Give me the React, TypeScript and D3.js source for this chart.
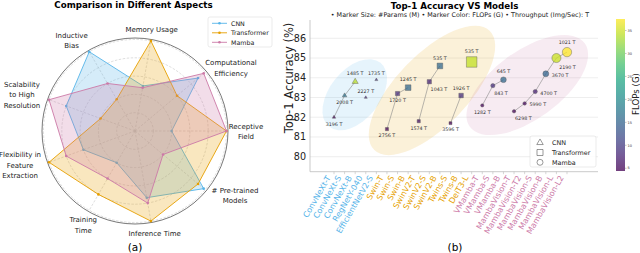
import React from "react";
import * as d3 from "d3";

// ---------- (a) radar data ----------
const aspects = [
  "Receptive\nField",
  "Computational\nEfficiency",
  "Memory Usage",
  "Inductive\nBias",
  "Scalability\nto High\nResolution",
  "Flexibility in\nFeature\nExtraction",
  "Training\nTime",
  "Inference Time",
  "# Pre-trained\nModels",
];
const cnnScores = [2, 4.5, 2.5, 5, 4, 3, 2, 3.7, 4.9];
const transformerScores = [5, 3, 5, 2, 2, 5, 4, 5, 4.5];
const mambaScores = [5, 4.9, 2.4, 3, 5, 4, 3, 4, 2];
const radarNames = ["CNN", "Transformer", "Mamba"];
const radarScores = [cnnScores, transformerScores, mambaScores];

// ---------- (b) scatter data ----------
const models = [
  "ConvNeXt-T", "ConvNeXt-S", "ConvNeXt-B", "RegNetY-040", "EfficientNetV2-S",
  "Swin-T", "Swin-S", "Swin-B", "SwinV2-T", "SwinV2-S", "SwinV2-B", "Twins-S", "Twins-B", "DeiT3-L",
  "VMamba-T", "VMamba-S", "VMamba-B", "MambaVision-T", "MambaVision-T2", "MambaVision-S",
  "MambaVision-B", "MambaVision-L", "MambaVision-L2",
];
const family = [
  "CNN", "CNN", "CNN", "CNN", "CNN",
  "Transformer", "Transformer", "Transformer", "Transformer", "Transformer", "Transformer",
  "Transformer", "Transformer", "Transformer",
  "Mamba", "Mamba", "Mamba", "Mamba", "Mamba", "Mamba", "Mamba", "Mamba", "Mamba",
];
const lineage = [
  "ConvNeXt", "ConvNeXt", "ConvNeXt", "RegNetY", "EfficientNetV2",
  "Swin", "Swin", "Swin", "SwinV2", "SwinV2", "SwinV2", "Twins", "Twins", "DeiT3",
  "VMamba", "VMamba", "VMamba", "MambaVision", "MambaVision", "MambaVision",
  "MambaVision", "MambaVision", "MambaVision",
];
const accuracy = [
  82.0, 83.1, 83.8, 83.0, 83.9,
  81.4, 83.2, 83.5, 81.8, 83.8, 84.6, 81.7, 83.1, 84.8,
  82.6, 83.6, 83.9, 82.3, 82.7, 83.3, 84.2, 85.0, 85.3,
];
const params = [
  28, 50, 89, 21, 22,
  28, 50, 88, 28, 50, 88, 24, 56, 304,
  30, 50, 89, 32, 35, 50, 98, 228, 242,
];
const flops = [
  4.5, 17, 34, 8, 8.8,
  4.5, 8.7, 15.4, 5.9, 8, 15.4, 4.5, 8.6, 34.4,
  4.9, 8.7, 15.4, 4.4, 5.1, 7.5, 15.0, 34.9, 37.5,
];
const throughput = [
  3196, 2008, 1485, 2227, 1735,
  2756, 1720, 1245, 1574, 1043, 535, 3596, 1926, 535,
  1282, 843, 645, 6298, 5990, 4700, 3670, 2190, 1021,
];
const labelSide = [
  "b", "b", "t", "t", "t",
  "b", "b", "t", "b", "br", "t", "b", "t", "t",
  "b", "br", "t", "br", "r", "r", "r", "br", "t",
];
const accTicks = [80, 81, 82, 83, 84, 85, 86];
const flopsTicks = [5, 10, 15, 20, 25, 30, 35];
const familyNames = ["CNN", "Transformer", "Mamba"];

const familyColor: Record<string, string> = {
  CNN: "#56B4E9",
  Transformer: "#E69F00",
  Mamba: "#CC79A7",
};

// cluster ellipses: centre in data units (index, accuracy), radii in px
const clusters = [
  { family: "CNN", cx: 1.96, cy: 83.14, rx: 41, ry: 25, angle: -51 },
  { family: "Transformer", cx: 9.25, cy: 83.36, rx: 83, ry: 36, angle: -46 },
  { family: "Mamba", cx: 18.25, cy: 83.63, rx: 71, ry: 34, angle: -36 },
];

// nudges of the radar labels from the point just outside the ring
const aspectNudge = [
  [11.5, 0.7], [19.8, 1], [-0.6, -3], [-13.6, -4.5], [-19.5, -2.3],
  [-21.5, 0.3], [-2, 7.8], [2.4, 4.3], [23.8, 0.7],
];

const font = "DejaVu Sans, sans-serif";

function Radar() {
  const cx = 135;
  const cy = 131;
  const R = 91.5;
  const r = d3.scaleLinear().domain([0, 5]).range([0, R]);
  const step = (2 * Math.PI) / aspects.length;
  const theta = (i: number) => i * step;
  const line = d3
    .lineRadial<number>()
    .angle((_, i) => Math.PI / 2 - theta(i))
    .radius((d) => r(d))
    .curve(d3.curveLinearClosed);

  return (
    <g>
      <text x={133.5} y={7.5} textAnchor="middle" fontSize={8.7} fontWeight="bold" fontFamily={font}>
        Comparison in Different Aspects
      </text>
      <g transform={`translate(${cx},${cy})`}>
        {[1, 2, 3, 4, 5].map((v) => (
          <circle key={v} r={r(v)} fill="none" stroke="#c8c8c8" strokeWidth={0.6} strokeDasharray="2.5,1.5" />
        ))}
        {aspects.map((_, i) => (
          <line
            key={i}
            x1={0}
            y1={0}
            x2={R * Math.cos(theta(i))}
            y2={-R * Math.sin(theta(i))}
            stroke="#c8c8c8"
            strokeWidth={0.6}
            strokeDasharray="2.5,1.5"
          />
        ))}
        <circle r={R + 1.5} fill="none" stroke="#555" strokeWidth={0.8} />
        {radarScores.map((scores, k) => {
          const c = familyColor[radarNames[k]];
          return (
            <g key={k}>
              <path d={line(scores) || ""} fill={c} fillOpacity={0.25} stroke={c} strokeWidth={0.9} />
              {scores.map((s, i) => (
                <circle key={i} cx={r(s) * Math.cos(theta(i))} cy={-r(s) * Math.sin(theta(i))} r={1.3} fill={c} />
              ))}
            </g>
          );
        })}
      </g>
      {aspects.map((a, i) => {
        const lines = a.split("\n");
        const lx = cx + (R + 8) * Math.cos(theta(i)) + aspectNudge[i][0];
        const ly = cy - (R + 8) * Math.sin(theta(i)) + aspectNudge[i][1];
        const lh = 10.4;
        return (
          <text key={i} textAnchor="middle" fontSize={7} fontFamily={font} fill="#222">
            {lines.map((t, j) => (
              <tspan key={j} x={lx} y={ly + (j - (lines.length - 1) / 2) * lh} dy="0.35em">
                {t}
              </tspan>
            ))}
          </text>
        );
      })}
      {/* legend */}
      <rect x={208} y={17} width={64} height={30} rx={2} fill="white" stroke="#ddd" strokeWidth={0.6} />
      {radarNames.map((n, k) => {
        const yy = 23.3 + k * 9.5;
        return (
          <g key={n}>
            <line x1={212} x2={227} y1={yy} y2={yy} stroke={familyColor[n]} strokeWidth={0.9} />
            <circle cx={219.5} cy={yy} r={1.3} fill={familyColor[n]} />
            <text x={231} y={yy} dy="0.35em" fontSize={6.3} fontFamily={font} fill="#222">
              {n}
            </text>
          </g>
        );
      })}
      <text x={135} y={251} textAnchor="middle" fontSize={10.5} fontFamily={font}>
        (a)
      </text>
    </g>
  );
}

function Scatter() {
  const plot = { left: 310, right: 598, top: 20, bottom: 171.7 };
  const x = d3.scaleLinear().domain([0, models.length - 1]).range([334, 567]);
  const y = d3.scaleLinear().domain([80, 86]).range([156.7, 38.3]);
  const size = d3.scaleSqrt().domain([0, 304]).range([0, 10.5]);
  const color = d3.scaleSequential(d3.interpolateViridis).domain([4.4, 37.5]).clamp(true);
  const idx = models.map((_, i) => i);

  const symbolPath = (fam: string, d: number) => {
    if (fam === "CNN") return d3.symbol(d3.symbolTriangle, d * d * 0.5)() || "";
    if (fam === "Transformer") return d3.symbol(d3.symbolSquare, d * d)() || "";
    return d3.symbol(d3.symbolCircle, (Math.PI * d * d) / 4)() || "";
  };

  const groups = d3.groups(idx, (i) => lineage[i]).filter(([, g]) => g.length > 1);
  const link = d3
    .line<number>()
    .x((i) => x(i))
    .y((i) => y(accuracy[i]));

  const labelPos = (i: number) => {
    const px = x(i);
    const py = y(accuracy[i]);
    const rr = size(params[i]) / 2;
    switch (labelSide[i]) {
      case "t":
        return { lx: px, ly: py - rr - 3.5, anchor: "middle" };
      case "b":
        return { lx: px, ly: py + rr + 6.8, anchor: "middle" };
      case "r":
        return { lx: px + rr + 3, ly: py + 3, anchor: "start" };
      default:
        return { lx: px + rr * 0.6, ly: py + rr + 6.8, anchor: "start" };
    }
  };

  const cbar = { x: 616, w: 9, top: 19, bottom: 171 };
  const cy = d3.scaleLinear().domain(color.domain()).range([cbar.bottom, cbar.top]);

  return (
    <g>
      <text x={454.5} y={8.7} textAnchor="middle" fontSize={8.7} fontWeight="bold" fontFamily={font}>
        Top-1 Accuracy VS Models
      </text>
      <text x={460} y={17.2} textAnchor="middle" fontSize={6.4} fontFamily={font} fill="#222">
        • Marker Size: #Params (M) • Marker Color: FLOPs (G) • Throughput (Img/Sec): T
      </text>
      {/* grid */}
      {accTicks.map((t) => (
        <g key={t}>
          <line x1={plot.left} x2={plot.right} y1={y(t)} y2={y(t)} stroke="#e6e6e6" strokeWidth={0.7} />
          <text x={306} y={y(t)} dy="0.35em" textAnchor="end" fontSize={9.6} fontFamily={font} fill="#222">
            {t}
          </text>
        </g>
      ))}
      {/* clusters */}
      {clusters.map((c) => (
        <ellipse
          key={c.family}
          cx={0}
          cy={0}
          rx={c.rx}
          ry={c.ry}
          transform={`translate(${x(c.cx)},${y(c.cy)}) rotate(${c.angle})`}
          fill={familyColor[c.family]}
          fillOpacity={0.15}
        />
      ))}
      {/* spines */}
      <line x1={plot.left} x2={plot.left} y1={plot.top} y2={plot.bottom} stroke="#bbb" strokeWidth={0.8} />
      <line x1={plot.left} x2={plot.right} y1={plot.bottom} y2={plot.bottom} stroke="#bbb" strokeWidth={0.8} />
      {/* links */}
      {groups.map(([k, g]) => (
        <path key={k} d={link(g) || ""} fill="none" stroke="#888" strokeWidth={0.6} />
      ))}
      {/* markers */}
      {idx.map((i) => (
        <path
          key={i}
          d={symbolPath(family[i], size(params[i]))}
          transform={`translate(${x(i)},${y(accuracy[i])})`}
          fill={color(flops[i])}
          fillOpacity={0.75}
          stroke="#555"
          strokeWidth={0.4}
        />
      ))}
      {idx.map((i) => {
        const p = labelPos(i);
        return (
          <text key={i} x={p.lx} y={p.ly} textAnchor={p.anchor as any} fontSize={4.8} fontFamily={font} fill="#333">
            {`${throughput[i]} T`}
          </text>
        );
      })}
      {/* x ticks */}
      {idx.map((i) => (
        <g key={i}>
          <line x1={x(i)} x2={x(i)} y1={plot.bottom} y2={plot.bottom + 2.5} stroke="#bbb" strokeWidth={0.6} />
          <text
            transform={`translate(${x(i) - 3},${plot.bottom + 6}) rotate(-60)`}
            textAnchor="end"
            fontSize={8}
            fontFamily={font}
            fill={familyColor[family[i]]}
          >
            {models[i]}
          </text>
        </g>
      ))}
      <text
        transform={`translate(293,78) rotate(-90)`}
        textAnchor="middle"
        fontSize={11.5}
        fontFamily={font}
        fill="#222"
      >
        Top-1 Accuracy (%)
      </text>
      {/* legend */}
      <rect x={530} y={136} width={66} height={31} rx={2} fill="white" fillOpacity={0.85} stroke="#ddd" strokeWidth={0.6} />
      {familyNames.map((f, k) => {
        const yy = 142.7 + k * 9.8;
        return (
          <g key={f}>
            <path d={symbolPath(f, 6)} transform={`translate(540,${yy})`} fill="none" stroke="#555" strokeWidth={0.6} />
            <text x={552} y={yy} dy="0.35em" fontSize={6.4} fontFamily={font} fill="#222">
              {f}
            </text>
          </g>
        );
      })}
      {/* colorbar */}
      <defs>
        <linearGradient id="cbar" x1="0" y1="1" x2="0" y2="0">
          {d3.range(0, 1.001, 0.1).map((t) => (
            <stop key={t} offset={t} stopColor={d3.interpolateViridis(t)} />
          ))}
        </linearGradient>
      </defs>
      <rect x={cbar.x} y={cbar.top} width={cbar.w} height={cbar.bottom - cbar.top} fill="url(#cbar)" fillOpacity={0.75} />
      {flopsTicks.map((t) => (
        <g key={t}>
          <line x1={cbar.x + cbar.w} x2={cbar.x + cbar.w + 1.5} y1={cy(t)} y2={cy(t)} stroke="#666" strokeWidth={0.4} />
          <text x={cbar.x + cbar.w + 2.5} y={cy(t)} dy="0.35em" fontSize={3.5} fontFamily={font} fill="#333">
            {t}
          </text>
        </g>
      ))}
      <text transform={`translate(636,94) rotate(-90)`} textAnchor="middle" dy="0.35em" fontSize={8.6} fontFamily={font} fill="#222">
        FLOPs (G)
      </text>
      <text x={455} y={251} textAnchor="middle" fontSize={10.5} fontFamily={font}>
        (b)
      </text>
    </g>
  );
}

export default function App() {
  return (
    <svg
      width={640}
      height={253}
      viewBox="0 0 640 253"
      style={{ position: "absolute", left: 0, top: 0, background: "white" }}
    >
      <rect width={640} height={253} fill="white" />
      <Radar />
      <Scatter />
    </svg>
  );
}
